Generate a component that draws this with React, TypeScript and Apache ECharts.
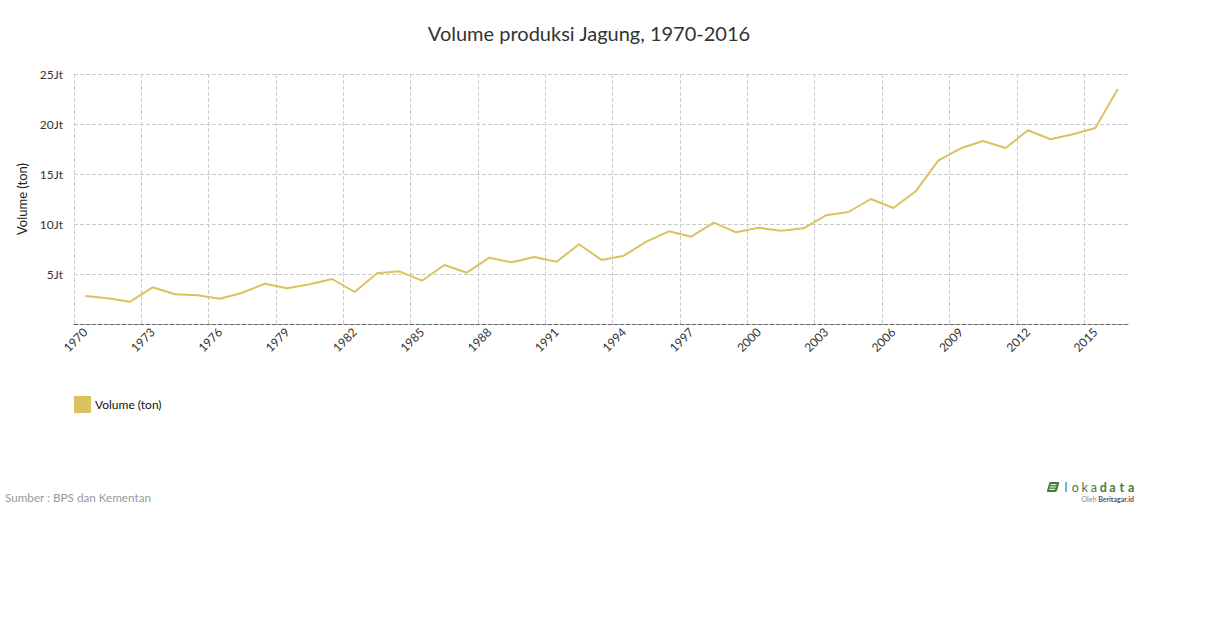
import React, { useEffect, useRef } from "react";
import * as echarts from "echarts";

const years: string[] = [
  "1970","1971","1972","1973","1974","1975","1976","1977","1978","1979",
  "1980","1981","1982","1983","1984","1985","1986","1987","1988","1989",
  "1990","1991","1992","1993","1994","1995","1996","1997","1998","1999",
  "2000","2001","2002","2003","2004","2005","2006","2007","2008","2009",
  "2010","2011","2012","2013","2014","2015","2016",
];

// Volume in juta (million) ton
const volume: number[] = [
  2.8, 2.57, 2.23, 3.67, 2.97, 2.87, 2.53, 3.13, 4.03, 3.57,
  3.97, 4.5, 3.2, 5.07, 5.27, 4.33, 5.9, 5.13, 6.63, 6.17,
  6.7, 6.23, 7.97, 6.4, 6.83, 8.23, 9.27, 8.73, 10.13, 9.17,
  9.63, 9.33, 9.57, 10.87, 11.2, 12.5, 11.6, 13.27, 16.33, 17.57,
  18.3, 17.6, 19.37, 18.47, 18.97, 19.6, 23.5,
];

const seriesName = "Volume (ton)";
const titleText = "Volume produksi Jagung, 1970-2016";
const sourceText = "Sumber : BPS dan Kementan";

// boundaries for vertical grid lines (one more than categories)
const boundaries: string[] = Array.from({ length: years.length + 1 }, (_, i) => String(i));

const FONT = "Lato, 'Open Sans', sans-serif";
const LINE_COLOR = "#dbc261";
const LOGO_GREEN = "#3f7d3c";

echarts.graphic.registerShape(
  "lokaleaf",
  echarts.graphic.extendPath(
    "M4 0 L12 0 Q13.2 0 12.8 1.4 L10.6 8.6 Q10.2 10 8.8 10 L0.8 10 Q-0.4 10 0 8.6 L2.2 1.4 Q2.6 0 4 0 Z",
    {}
  )
);

const logoLetters = ["l", "o", "k", "a", "d", "a", "t", "a"];

export default function App() {
  const ref = useRef<HTMLDivElement>(null);

  useEffect(() => {
    if (!ref.current) return;
    const chart = echarts.init(ref.current, undefined, { renderer: "svg" });

    const letterGraphics = logoLetters.map((ch, i) => ({
      type: "text",
      x: 1066 + i * 9.3,
      y: 487,
      style: {
        text: ch,
        fill: LOGO_GREEN,
        font: `${i >= 4 ? "bold" : "normal"} 12.5px ${FONT}`,
        textAlign: "center",
        textVerticalAlign: "middle",
      },
    }));

    chart.setOption({
      animation: false,
      backgroundColor: "#ffffff",
      textStyle: { fontFamily: FONT },
      grid: { left: 74, top: 74, width: 1055, height: 250, containLabel: false },
      legend: {
        data: [seriesName],
        left: 74,
        top: 396,
        padding: 0,
        icon: "rect",
        itemWidth: 17,
        itemHeight: 17,
        itemGap: 10,
        textStyle: { fontSize: 12, color: "#111", fontFamily: FONT, padding: [0, 0, 0, -1] },
      },
      xAxis: [
        {
          type: "category",
          data: years,
          boundaryGap: true,
          axisLine: { show: true, lineStyle: { color: "#666", type: "dashed", width: 1 } },
          axisTick: { show: false },
          axisLabel: {
            interval: 2,
            rotate: 45,
            fontSize: 12,
            color: "#333",
            fontFamily: FONT,
            margin: 6,
          },
          splitLine: { show: false },
          z: 5,
        },
        {
          type: "category",
          data: boundaries,
          boundaryGap: false,
          position: "bottom",
          axisLine: { show: false },
          axisTick: { show: false },
          axisLabel: { show: false },
          splitLine: {
            show: true,
            interval: 2,
            lineStyle: { color: "#cccccc", type: "dashed", width: 1 },
          },
        },
      ],
      yAxis: {
        type: "value",
        min: 0,
        max: 25,
        interval: 5,
        name: seriesName,
        nameLocation: "middle",
        nameGap: 44,
        nameTextStyle: { fontSize: 13, color: "#222", fontFamily: FONT },
        axisLine: { show: false },
        axisTick: { show: false },
        axisLabel: {
          formatter: (v: number) => (v === 0 ? "" : `${v}Jt`),
          fontSize: 12,
          color: "#333",
          fontFamily: FONT,
          margin: 11,
        },
        splitLine: { show: true, lineStyle: { color: "#cccccc", type: "dashed", width: 1 } },
      },
      series: [
        {
          name: seriesName,
          type: "line",
          xAxisIndex: 0,
          data: volume,
          showSymbol: false,
          symbol: "none",
          lineStyle: { color: LINE_COLOR, width: 2 },
          itemStyle: { color: LINE_COLOR },
          z: 3,
        },
      ],
      graphic: [
        {
          type: "text",
          x: 589,
          y: 33,
          style: {
            text: titleText,
            fill: "#333",
            font: `20px ${FONT}`,
            textAlign: "center",
            textVerticalAlign: "middle",
          },
        },
        {
          type: "text",
          x: 5,
          y: 497,
          style: {
            text: sourceText,
            fill: "#999",
            font: `11.7px ${FONT}`,
            textAlign: "left",
            textVerticalAlign: "middle",
          },
        },
        {
          type: "group",
          children: [
            {
              type: "lokaleaf",
              x: 1047,
              y: 482,
              scaleX: 0.95,
              scaleY: 1,
              style: { fill: LOGO_GREEN },
            },
            {
              type: "line",
              shape: { x1: 1050.5, y1: 484.7, x2: 1056.5, y2: 484.7 },
              style: { stroke: "#fff", lineWidth: 1 },
            },
            {
              type: "line",
              shape: { x1: 1049.8, y1: 487, x2: 1055.8, y2: 487 },
              style: { stroke: "#fff", lineWidth: 1 },
            },
            {
              type: "line",
              shape: { x1: 1049.1, y1: 489.3, x2: 1055.1, y2: 489.3 },
              style: { stroke: "#fff", lineWidth: 1 },
            },
            ...letterGraphics,
            {
              type: "text",
              x: 1134,
              y: 498.5,
              style: {
                text: "Oleh {b|Beritagar.id}",
                fill: "#888",
                font: `7px ${FONT}`,
                textAlign: "right",
                textVerticalAlign: "middle",
                rich: {
                  b: { fill: "#555", fontWeight: "bold", fontSize: 7, fontFamily: FONT },
                },
              },
            },
          ],
        },
      ],
    });

    return () => {
      chart.dispose();
    };
  }, []);

  return (
    <div
      ref={ref}
      style={{ position: "fixed", left: 0, top: 0, width: 1210, height: 628, background: "#fff" }}
    />
  );
}
